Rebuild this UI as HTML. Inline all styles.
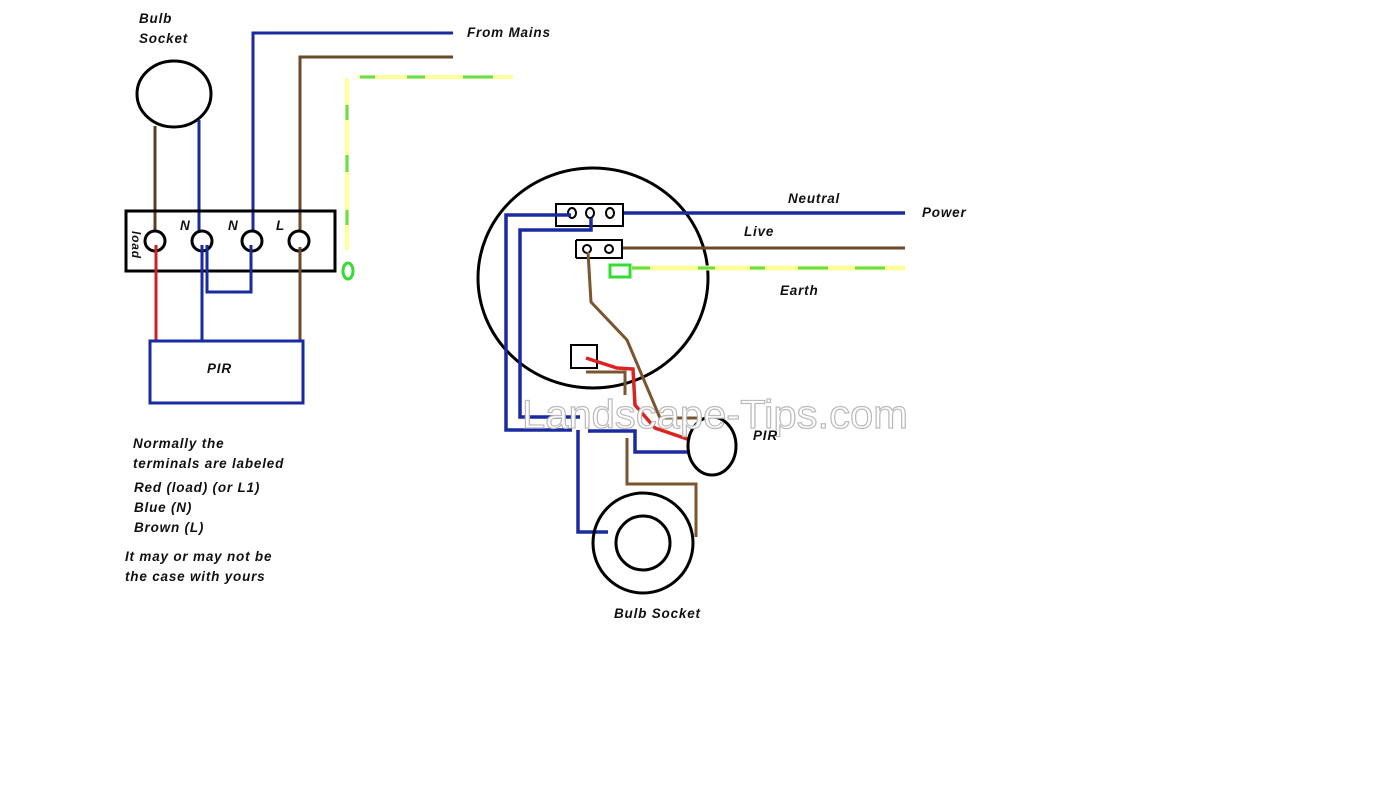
<!DOCTYPE html>
<html><head><meta charset="utf-8"><style>
html,body{margin:0;padding:0;background:#fff;}
svg{display:block;}
text{font-family:"Liberation Sans",sans-serif;font-weight:bold;font-style:italic;font-size:13.5px;letter-spacing:0.8px;fill:#111;}
</style></head><body>
<svg width="1400" height="800" viewBox="0 0 1400 800" xmlns="http://www.w3.org/2000/svg">
<rect width="1400" height="800" fill="#fff"/>
<g fill="none" stroke-linejoin="miter">
<ellipse cx="174" cy="94" rx="37" ry="33" stroke="#000" stroke-width="3"/>
<path d="M155 126 V232" stroke="#5a4022" stroke-width="3"/>
<path d="M199 120 V233" stroke="#1a2aa0" stroke-width="3"/>
<path d="M253 232 V33 H453" stroke="#1a2aa0" stroke-width="3"/>
<path d="M300 232 V57 H453" stroke="#6b4a2a" stroke-width="3"/>
<path d="M347 78 V250 M358 77 H513" stroke="#ffff99" stroke-width="4"/>
<path d="M347 105 V120 M347 155 V172 M347 210 V225 M360 77 H375 M407 77 H425 M463 77 H493" stroke="#66dd55" stroke-width="3"/>
<ellipse cx="348" cy="271" rx="5" ry="8" stroke="#33dd33" stroke-width="3"/>
<rect x="126" y="211" width="209" height="60" stroke="#000" stroke-width="3"/>
<circle cx="155" cy="241" r="10" stroke="#000" stroke-width="3"/>
<circle cx="202" cy="241" r="10" stroke="#000" stroke-width="3"/>
<circle cx="252" cy="241" r="10" stroke="#000" stroke-width="3"/>
<circle cx="299" cy="241" r="10" stroke="#000" stroke-width="3"/>
<path d="M156 245 V340" stroke="#cc2222" stroke-width="3"/>
<path d="M202 245 V340" stroke="#1a2aa0" stroke-width="3"/>
<path d="M207 245 V292 H251 V245" stroke="#1a2aa0" stroke-width="3"/>
<path d="M300 247 V340" stroke="#6b4a2a" stroke-width="3"/>
<rect x="150" y="341" width="153" height="62" stroke="#1a2aa0" stroke-width="3"/>

<ellipse cx="593" cy="278" rx="115" ry="110" stroke="#000" stroke-width="3"/>
<path d="M623 213 H905" stroke="#1a2aa0" stroke-width="3.5"/>
<path d="M622 248 H905" stroke="#6b4a2a" stroke-width="3"/>
<path d="M632 268 H905" stroke="#ffff99" stroke-width="5"/>
<path d="M632 268 H650 M698 268 H715 M750 268 H765 M798 268 H828 M855 268 H885" stroke="#66dd55" stroke-width="3"/>
<rect x="610" y="265" width="20" height="12" stroke="#33dd33" stroke-width="3"/>
<rect x="556" y="204" width="67" height="22" stroke="#000" stroke-width="2"/>
<ellipse cx="572" cy="213" rx="4" ry="5" stroke="#000" stroke-width="2"/>
<ellipse cx="590" cy="213" rx="4" ry="5" stroke="#000" stroke-width="2"/>
<ellipse cx="610" cy="213" rx="4" ry="5" stroke="#000" stroke-width="2"/>
<path d="M576 240 V258 M576 240 H622 V258 H576" stroke="#000" stroke-width="2"/>
<ellipse cx="587" cy="249" rx="4" ry="4" stroke="#000" stroke-width="2"/>
<ellipse cx="609" cy="249" rx="4" ry="4" stroke="#000" stroke-width="2"/>
<path d="M571 215 H506 V430 H572 M578 430 V532 H608" stroke="#1a2aa0" stroke-width="3.5"/>
<path d="M591 218 V230 H520 V417 H580 M588 431 H635 V452 H690" stroke="#1a2aa0" stroke-width="3.5"/>
<path d="M588 252 L591 302 L627 340 L660 418 H702" stroke="#7a5530" stroke-width="3"/>
<rect x="571" y="345" width="26" height="23" stroke="#000" stroke-width="2"/>
<path d="M586 372 H625 V395 M627 438 V484 H696 V537" stroke="#7a5530" stroke-width="3"/>
<path d="M586 358 L617 368 L633 369 L635 405 L655 428 L690 440" stroke="#dd2222" stroke-width="3.5"/>
<ellipse cx="712" cy="446" rx="24" ry="29" stroke="#000" stroke-width="3"/>
<circle cx="643" cy="543" r="50" stroke="#000" stroke-width="3"/>
<circle cx="643" cy="543" r="27" stroke="#000" stroke-width="3"/>
</g>
<text x="522" y="428" textLength="386" lengthAdjust="spacingAndGlyphs" style="font-size:40px;font-style:normal;font-weight:normal;letter-spacing:0;fill:#fff;stroke:#bbb;stroke-width:1.2;font-family:'Liberation Sans',sans-serif">Landscape-Tips.com</text>

<text x="139" y="23">Bulb</text>
<text x="139" y="43">Socket</text>
<text x="467" y="37">From Mains</text>
<text x="180" y="230">N</text>
<text x="228" y="230">N</text>
<text x="276" y="230">L</text>
<text x="132" y="231" transform="rotate(90 132 231)" style="font-size:12px">load</text>
<text x="207" y="373">PIR</text>
<text x="133" y="448">Normally the</text>
<text x="133" y="468">terminals are labeled</text>
<text x="134" y="492">Red (load) (or L1)</text>
<text x="134" y="512">Blue (N)</text>
<text x="134" y="532">Brown (L)</text>
<text x="125" y="561">It may or may not be</text>
<text x="125" y="581">the case with yours</text>
<text x="788" y="203">Neutral</text>
<text x="922" y="217">Power</text>
<text x="744" y="236">Live</text>
<text x="780" y="295">Earth</text>
<text x="753" y="440">PIR</text>
<text x="614" y="618">Bulb Socket</text>
</svg>
</body></html>
